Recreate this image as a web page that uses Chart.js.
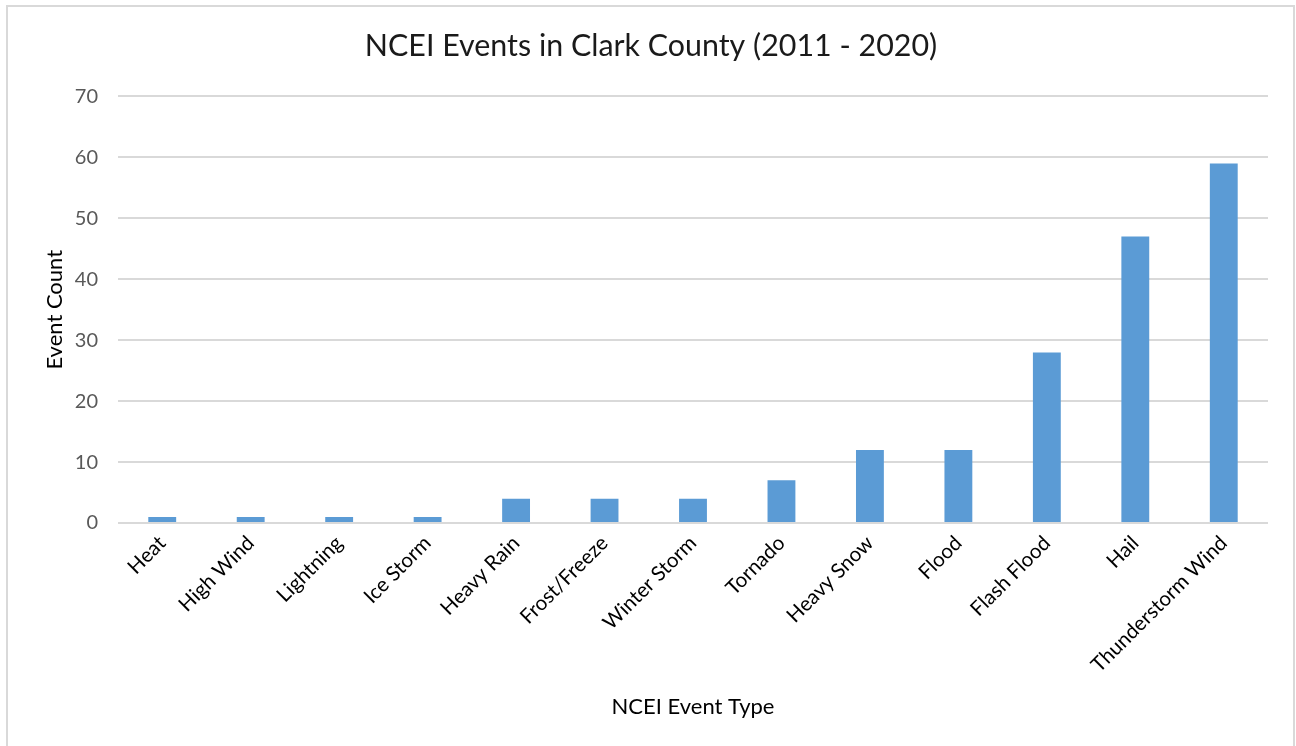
<!DOCTYPE html>
<html>
<head>
<meta charset="utf-8">
<title>NCEI Events in Clark County</title>
<script src="https://cdn.jsdelivr.net/npm/chart.js@4.4.1/dist/chart.umd.min.js"></script>
<style>
  body { margin: 0; background: #fff; }
  #frame {
    position: absolute; left: 6px; top: 5px; width: 1289px; height: 780px;
    border: 2px solid #d9d9d9; box-sizing: border-box;
  }
  #wrap { position: absolute; left: 0; top: 0; width: 1296px; height: 746px; }
</style>
</head>
<body>
<div id="frame"></div>
<div id="wrap"><canvas id="chart" width="1296" height="746"></canvas></div>
<script>
const categories = ['Heat', 'High Wind', 'Lightning', 'Ice Storm', 'Heavy Rain', 'Frost/Freeze',
  'Winter Storm', 'Tornado', 'Heavy Snow', 'Flood', 'Flash Flood', 'Hail', 'Thunderstorm Wind'];
const eventCounts = [1, 1, 1, 1, 4, 4, 4, 7, 12, 12, 28, 47, 59];
const yMin = 0;
const yMax = 70;
const yStep = 10;

const font = 'Lato, "Open Sans", sans-serif';

// title is centred on the outer frame, not on the space left of the right padding
const centreTitle = {
  id: 'centreTitle',
  afterLayout(chart) {
    const t = chart.titleBlock;
    if (t) { t.left = 34; t.right = 1268; }
  },
};

const ctx = document.getElementById('chart').getContext('2d');
new Chart(ctx, {
  type: 'bar',
  data: {
    labels: categories,
    datasets: [{
      label: 'Event Count',
      data: eventCounts,
      backgroundColor: '#5b9bd5',
      categoryPercentage: 1,
      barPercentage: 0.315,
    }],
  },
  options: {
    responsive: false,
    animation: false,
    layout: { padding: { top: 0, right: 28, bottom: 0, left: 0 } },
    plugins: {
      legend: { display: false },
      tooltip: { enabled: false },
      title: {
        display: true,
        text: 'NCEI Events in Clark County (2011 - 2020)',
        color: '#1a1a1a',
        font: { family: font, size: 30.4, weight: 'normal' },
        padding: { top: 28, bottom: 32 },
      },
    },
    scales: {
      x: {
        grid: { display: false, drawTicks: false },
        border: { display: false },
        ticks: {
          color: '#000',
          font: { family: font, size: 20.5 },
          minRotation: 45,
          maxRotation: 45,
          autoSkip: false,
          padding: 8,
        },
        title: {
          display: true,
          text: 'NCEI Event Type',
          color: '#000',
          font: { family: font, size: 22 },
          padding: { top: 0, bottom: 26 },
        },
        afterFit: (scale) => { scale.height = 223; },
      },
      y: {
        min: yMin,
        max: yMax,
        grid: { color: '#d9d9d9', lineWidth: 2, drawTicks: false },
        border: { display: false },
        ticks: {
          stepSize: yStep,
          color: '#595959',
          font: { family: font, size: 20 },
          padding: 20,
        },
        title: {
          display: true,
          text: 'Event Count',
          color: '#000',
          font: { family: font, size: 22 },
          padding: { top: 42, bottom: 0 },
        },
        afterFit: (scale) => { scale.width = 118; },
      },
    },
  },
  plugins: [centreTitle],
});
</script>
</body>
</html>
